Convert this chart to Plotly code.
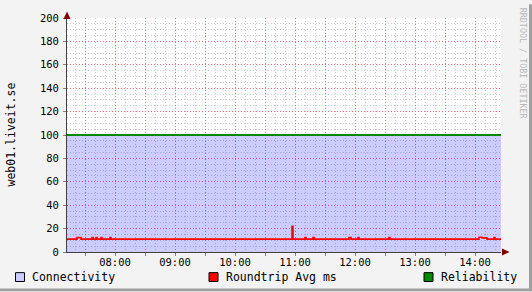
import plotly.graph_objects as go

DAY = "2024-01-01 "

# Connectivity (area) and Reliability (line) series
conn_times = ["07:12", "14:26"]
conn_values = [100, 100]
rel_times = ["07:12", "14:26"]
rel_values = [100, 100]

# Roundtrip Avg ms (step series)
rt_times = ["07:12", "07:22", "07:26", "07:37", "07:38", "07:41", "07:42", "07:46", "07:47",
            "07:55", "07:56", "10:57", "10:58", "11:10", "11:11", "11:18", "11:19",
            "11:54", "11:56", "12:03", "12:04", "12:34", "12:35", "14:04", "14:07",
            "14:12", "14:19", "14:20", "14:26"]
rt_values = [11, 12.3, 11, 12.3, 11, 12.3, 11, 12.3, 11,
             12.3, 11, 22, 11, 12.3, 11, 12.3, 11,
             12.3, 11, 12.3, 11, 12.3, 11, 12.6, 12.1,
             11, 12.3, 11, 11]

x_tickvals = ["07:30", "08:00", "08:30", "09:00", "09:30", "10:00", "10:30", "11:00",
              "11:30", "12:00", "12:30", "13:00", "13:30", "14:00"]
x_ticktext = ["", "08:00", "", "09:00", "", "10:00", "", "11:00",
              "", "12:00", "", "13:00", "", "14:00"]
x_range = ["07:12", "14:26"]

legend_names = ["Connectivity", "Roundtrip Avg ms", "Reliability"]
legend_colors = ["#ccccff", "#ff0000", "#008800"]

MONO = "DejaVu Sans Mono"
W, H = 532, 292
L, R, T, B = 67, 501, 14, 252


def pxx(x):
    return (x - L) / (R - L)


def pxy(y):
    return (B - y) / (B - T)


def t(s):
    return DAY + s + ":00"


# minor grid positions (10 min / 5 units), skipping major positions
x_minor = []
for h in range(7, 15):
    for m in range(0, 60, 10):
        if m % 30 != 0:
            x_minor.append(t(f"{h:02d}:{m:02d}"))
y_minor = [v for v in range(0, 201, 5) if v % 20 != 0]

fig = go.Figure()
fig.add_trace(go.Scatter(x=[t(s) for s in conn_times], y=conn_values, mode="lines",
                         fill="tozeroy", fillcolor="rgba(0,0,255,0.2)",
                         line=dict(width=0, color="rgba(0,0,0,0)"), showlegend=False,
                         hoverinfo="skip"))
fig.add_trace(go.Scatter(x=[t(s) for s in rt_times], y=rt_values, mode="lines",
                         line=dict(color="#ff0000", width=1.6, shape="hv"), showlegend=False))
fig.add_trace(go.Scatter(x=[t(s) for s in rel_times], y=rel_values, mode="lines",
                         line=dict(color="#008800", width=2), showlegend=False))

shapes = []
# arrows
shapes.append(dict(type="path", xref="paper", yref="paper",
                   path=f"M {pxx(63.5)} {pxy(15)} L {pxx(70.5)} {pxy(15)} L {pxx(67)} {pxy(7.5)} Z",
                   fillcolor="#800000", line=dict(width=0)))
shapes.append(dict(type="path", xref="paper", yref="paper",
                   path=f"M {pxx(502)} {pxy(248.5)} L {pxx(502)} {pxy(255.5)} L {pxx(509.5)} {pxy(252)} Z",
                   fillcolor="#800000", line=dict(width=0)))
# frame borders
shapes.append(dict(type="rect", xref="paper", yref="paper",
                   x0=pxx(0), x1=pxx(W), y0=pxy(289), y1=pxy(H),
                   fillcolor="#a0a0a0", line=dict(width=0)))
shapes.append(dict(type="rect", xref="paper", yref="paper",
                   x0=pxx(529), x1=pxx(W), y0=pxy(0), y1=pxy(H),
                   fillcolor="#a0a0a0", line=dict(width=0)))

annotations = []
sq_x = [15.5, 209, 424]
txt_x = [30, 224, 439]
for name, col, sx, tx in zip(legend_names, legend_colors, sq_x, txt_x):
    shapes.append(dict(type="rect", xref="paper", yref="paper",
                       x0=pxx(sx), x1=pxx(sx + 9), y0=pxy(273), y1=pxy(282),
                       fillcolor=col, line=dict(color="#000000", width=1)))
    annotations.append(dict(text=name, xref="paper", yref="paper", x=pxx(tx), y=pxy(277.5),
                            xanchor="left", yanchor="middle", showarrow=False,
                            font=dict(family=MONO, size=11.5, color="#000000")))

annotations.append(dict(text="web01.liveit.se", xref="paper", yref="paper",
                        x=pxx(10.5), y=pxy(133), xanchor="center", yanchor="middle",
                        textangle=-90, showarrow=False,
                        font=dict(family=MONO, size=11.5, color="#000000")))
annotations.append(dict(text="RRDTOOL / TOBI OETIKER", xref="paper", yref="paper",
                        x=pxx(522.5), y=pxy(60), xanchor="center", yanchor="middle",
                        textangle=90, showarrow=False,
                        font=dict(family=MONO, size=8.4, color="#b8b8b8")))

fig.update_layout(
    width=W, height=H,
    margin=dict(l=L, r=W - R, t=T, b=H - B, pad=0),
    paper_bgcolor="#f3f3f3", plot_bgcolor="#ffffff",
    showlegend=False,
    shapes=shapes, annotations=annotations,
    font=dict(family=MONO, size=10, color="#000000"),
    xaxis=dict(type="date", range=[t(s) for s in x_range],
               tickmode="array", tickvals=[t(s) for s in x_tickvals], ticktext=x_ticktext,
               showgrid=True, gridcolor="#ff6a6a", griddash="1px,2px", gridwidth=1,
               minor=dict(tickmode="array", tickvals=x_minor, showgrid=True,
                          gridcolor="#cccccc", griddash="1px,2px", gridwidth=1),
               ticks="outside", ticklen=3, tickcolor="#808080",
               showline=True, linecolor="#404040", linewidth=1,
               zeroline=False, tickfont=dict(family=MONO, size=10.5), ticklabelstandoff=-3),
    yaxis=dict(range=[0, 200], tickmode="linear", tick0=0, dtick=20,
               showgrid=True, gridcolor="#ff6a6a", griddash="1px,2px", gridwidth=1,
               minor=dict(tickmode="array", tickvals=y_minor, showgrid=True,
                          gridcolor="#cccccc", griddash="1px,2px", gridwidth=1),
               ticks="outside", ticklen=3, tickcolor="#808080",
               showline=True, linecolor="#404040", linewidth=1,
               zeroline=False, tickfont=dict(family=MONO, size=10.5), ticklabelstandoff=2),
)

fig.write_html("out.html")
